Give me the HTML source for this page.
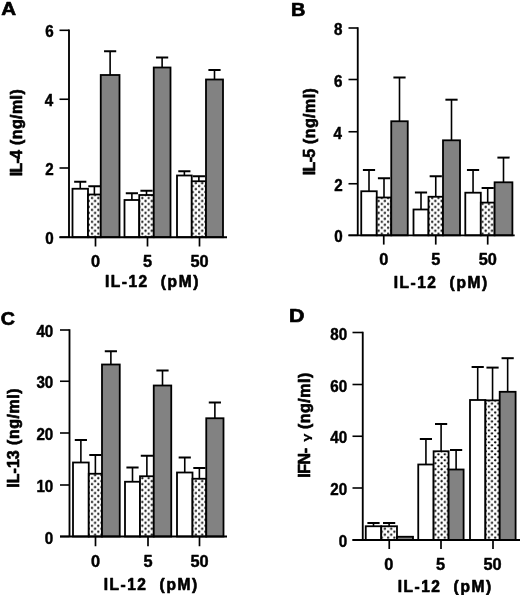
<!DOCTYPE html>
<html lang="en"><head><meta charset="utf-8"><title>Figure</title>
<style>html,body{margin:0;padding:0;background:#fff}body{width:520px;height:595px;overflow:hidden}svg{display:block}text{font-family:"Liberation Sans",Arial,Helvetica,sans-serif;font-weight:bold;fill:#000;stroke:#000;stroke-linejoin:round}</style></head><body>
<svg width="520" height="595" viewBox="0 0 520 595">
<defs><pattern id="dots" x="0" y="0" width="6.3" height="5.96" patternUnits="userSpaceOnUse"><rect width="6.3" height="5.96" fill="#fff"/><ellipse cx="3.8" cy="1.3" rx="1.2" ry="1.15" fill="#000"/><ellipse cx="0.65" cy="4.28" rx="1.2" ry="1.15" fill="#000"/><ellipse cx="6.95" cy="4.28" rx="1.2" ry="1.15" fill="#000"/></pattern></defs>
<rect width="520" height="595" fill="#fff"/>
<g id="panelA">
<path d="M80.25 188.75V181.75" stroke="#000" stroke-width="1.6" fill="none"/><path d="M74.15 181.75H86.35" stroke="#000" stroke-width="2" fill="none"/>
<rect x="72.50" y="188.75" width="15.50" height="48.45" fill="#fff" stroke="#000" stroke-width="1.8"/>
<path d="M94.38 194.50V186.25" stroke="#000" stroke-width="1.6" fill="none"/><path d="M88.28 186.25H100.47" stroke="#000" stroke-width="2" fill="none"/>
<rect x="88.00" y="194.50" width="12.75" height="42.70" fill="url(#dots)" stroke="#000" stroke-width="1.8"/>
<path d="M110.12 75.00V51.25" stroke="#000" stroke-width="1.6" fill="none"/><path d="M104.03 51.25H116.22" stroke="#000" stroke-width="2" fill="none"/>
<rect x="100.75" y="75.00" width="18.75" height="162.20" fill="#828282" stroke="#000" stroke-width="1.8"/>
<path d="M131.88 200.00V193.25" stroke="#000" stroke-width="1.6" fill="none"/><path d="M125.78 193.25H137.97" stroke="#000" stroke-width="2" fill="none"/>
<rect x="124.50" y="200.00" width="14.75" height="37.20" fill="#fff" stroke="#000" stroke-width="1.8"/>
<path d="M146.50 195.00V190.75" stroke="#000" stroke-width="1.6" fill="none"/><path d="M140.40 190.75H152.60" stroke="#000" stroke-width="2" fill="none"/>
<rect x="139.25" y="195.00" width="14.50" height="42.20" fill="url(#dots)" stroke="#000" stroke-width="1.8"/>
<path d="M162.12 67.50V57.50" stroke="#000" stroke-width="1.6" fill="none"/><path d="M156.03 57.50H168.22" stroke="#000" stroke-width="2" fill="none"/>
<rect x="153.75" y="67.50" width="16.75" height="169.70" fill="#828282" stroke="#000" stroke-width="1.8"/>
<path d="M184.38 175.50V171.25" stroke="#000" stroke-width="1.6" fill="none"/><path d="M178.28 171.25H190.47" stroke="#000" stroke-width="2" fill="none"/>
<rect x="177.00" y="175.50" width="14.75" height="61.70" fill="#fff" stroke="#000" stroke-width="1.8"/>
<path d="M198.88 181.25V176.25" stroke="#000" stroke-width="1.6" fill="none"/><path d="M192.78 176.25H204.97" stroke="#000" stroke-width="2" fill="none"/>
<rect x="191.75" y="181.25" width="14.25" height="55.95" fill="url(#dots)" stroke="#000" stroke-width="1.8"/>
<path d="M214.50 79.50V70.00" stroke="#000" stroke-width="1.6" fill="none"/><path d="M208.40 70.00H220.60" stroke="#000" stroke-width="2" fill="none"/>
<rect x="206.00" y="79.50" width="17.00" height="157.70" fill="#828282" stroke="#000" stroke-width="1.8"/>
<path d="M69.00 29.50V237.20M59.50 237.20H227.00" stroke="#000" stroke-width="1.85" fill="none"/>
<path d="M59.50 30.30H69.00" stroke="#000" stroke-width="1.6"/>
<text transform="translate(45.18,37.40) scale(0.95,1.0)" font-size="16.0" letter-spacing="0.000" stroke-width="0.45">6</text>
<path d="M59.50 99.25H69.00" stroke="#000" stroke-width="1.6"/>
<text transform="translate(44.71,106.35) scale(0.95,1.0)" font-size="16.0" letter-spacing="0.000" stroke-width="0.45">4</text>
<path d="M59.50 168.00H69.00" stroke="#000" stroke-width="1.6"/>
<text transform="translate(45.24,175.10) scale(0.95,1.0)" font-size="16.0" letter-spacing="0.000" stroke-width="0.45">2</text>
<path d="M59.50 237.20H69.00" stroke="#000" stroke-width="1.6"/>
<text transform="translate(45.26,244.30) scale(0.95,1.0)" font-size="16.0" letter-spacing="0.000" stroke-width="0.45">0</text>
<path d="M95.50 237.20V246.50" stroke="#000" stroke-width="1.7"/>
<text transform="translate(90.97,267.30) scale(1.02,1.0)" font-size="16.0" letter-spacing="0.000" stroke-width="0.45">0</text>
<path d="M147.50 237.20V246.50" stroke="#000" stroke-width="1.7"/>
<text transform="translate(142.94,267.30) scale(1.02,1.0)" font-size="16.0" letter-spacing="0.000" stroke-width="0.45">5</text>
<path d="M199.50 237.20V246.50" stroke="#000" stroke-width="1.7"/>
<text transform="translate(190.51,267.30) scale(1.02,1.0)" font-size="16.0" letter-spacing="-0.000" stroke-width="0.45">50</text>
<text transform="translate(104.88,287.20) scale(0.97,1.0)" font-size="16.0" letter-spacing="1.574" stroke-width="0.65">IL-12</text>
<text transform="translate(160.79,287.20) scale(0.97,1.0)" font-size="16.0" letter-spacing="1.691" stroke-width="0.65">(pM)</text>
<text transform="translate(21.60,176.15) rotate(-90) scale(1.0,1.0)" font-size="16.0" letter-spacing="-0.780" stroke-width="0.65">IL-4</text>
<text transform="translate(21.60,144.97) rotate(-90) scale(1.0,1.0)" font-size="16.0" letter-spacing="0.404" stroke-width="0.65">(ng/ml)</text>
<text transform="translate(1.16,15.30) scale(1.1554962696406135,1.0)" font-size="17.8" letter-spacing="0.000" stroke-width="0.65">A</text>
</g>
<g id="panelB">
<path d="M369.00 191.25V170.00" stroke="#000" stroke-width="1.6" fill="none"/><path d="M362.90 170.00H375.10" stroke="#000" stroke-width="2" fill="none"/>
<rect x="361.25" y="191.25" width="15.50" height="44.05" fill="#fff" stroke="#000" stroke-width="1.8"/>
<path d="M384.00 197.50V178.25" stroke="#000" stroke-width="1.6" fill="none"/><path d="M377.90 178.25H390.10" stroke="#000" stroke-width="2" fill="none"/>
<rect x="376.75" y="197.50" width="14.50" height="37.80" fill="url(#dots)" stroke="#000" stroke-width="1.8"/>
<path d="M399.50 121.25V77.50" stroke="#000" stroke-width="1.6" fill="none"/><path d="M393.40 77.50H405.60" stroke="#000" stroke-width="2" fill="none"/>
<rect x="391.25" y="121.25" width="16.50" height="114.05" fill="#828282" stroke="#000" stroke-width="1.8"/>
<path d="M421.00 209.50V192.50" stroke="#000" stroke-width="1.6" fill="none"/><path d="M414.90 192.50H427.10" stroke="#000" stroke-width="2" fill="none"/>
<rect x="413.50" y="209.50" width="15.00" height="25.80" fill="#fff" stroke="#000" stroke-width="1.8"/>
<path d="M435.75 196.75V176.25" stroke="#000" stroke-width="1.6" fill="none"/><path d="M429.65 176.25H441.85" stroke="#000" stroke-width="2" fill="none"/>
<rect x="428.50" y="196.75" width="14.50" height="38.55" fill="url(#dots)" stroke="#000" stroke-width="1.8"/>
<path d="M451.50 140.30V99.70" stroke="#000" stroke-width="1.6" fill="none"/><path d="M445.40 99.70H457.60" stroke="#000" stroke-width="2" fill="none"/>
<rect x="443.00" y="140.30" width="17.00" height="95.00" fill="#828282" stroke="#000" stroke-width="1.8"/>
<path d="M473.05 192.70V170.00" stroke="#000" stroke-width="1.6" fill="none"/><path d="M466.95 170.00H479.15" stroke="#000" stroke-width="2" fill="none"/>
<rect x="465.30" y="192.70" width="15.50" height="42.60" fill="#fff" stroke="#000" stroke-width="1.8"/>
<path d="M487.70 202.60V188.00" stroke="#000" stroke-width="1.6" fill="none"/><path d="M481.60 188.00H493.80" stroke="#000" stroke-width="2" fill="none"/>
<rect x="480.80" y="202.60" width="13.80" height="32.70" fill="url(#dots)" stroke="#000" stroke-width="1.8"/>
<path d="M503.50 182.30V157.60" stroke="#000" stroke-width="1.6" fill="none"/><path d="M497.40 157.60H509.60" stroke="#000" stroke-width="2" fill="none"/>
<rect x="494.60" y="182.30" width="17.80" height="53.00" fill="#828282" stroke="#000" stroke-width="1.8"/>
<path d="M357.75 27.20V235.30M348.50 235.30H514.70" stroke="#000" stroke-width="1.85" fill="none"/>
<path d="M348.50 28.00H357.75" stroke="#000" stroke-width="1.6"/>
<text transform="translate(334.00,35.10) scale(0.95,1.0)" font-size="16.0" letter-spacing="0.000" stroke-width="0.45">8</text>
<path d="M348.50 79.50H357.75" stroke="#000" stroke-width="1.6"/>
<text transform="translate(334.08,86.60) scale(0.95,1.0)" font-size="16.0" letter-spacing="0.000" stroke-width="0.45">6</text>
<path d="M348.50 131.75H357.75" stroke="#000" stroke-width="1.6"/>
<text transform="translate(333.61,138.85) scale(0.95,1.0)" font-size="16.0" letter-spacing="0.000" stroke-width="0.45">4</text>
<path d="M348.50 183.75H357.75" stroke="#000" stroke-width="1.6"/>
<text transform="translate(334.14,190.85) scale(0.95,1.0)" font-size="16.0" letter-spacing="0.000" stroke-width="0.45">2</text>
<path d="M348.50 235.30H357.75" stroke="#000" stroke-width="1.6"/>
<text transform="translate(334.16,242.40) scale(0.95,1.0)" font-size="16.0" letter-spacing="0.000" stroke-width="0.45">0</text>
<path d="M383.75 235.30V244.60" stroke="#000" stroke-width="1.7"/>
<text transform="translate(379.22,265.30) scale(1.02,1.0)" font-size="16.0" letter-spacing="0.000" stroke-width="0.45">0</text>
<path d="M435.75 235.30V244.60" stroke="#000" stroke-width="1.7"/>
<text transform="translate(431.19,265.30) scale(1.02,1.0)" font-size="16.0" letter-spacing="0.000" stroke-width="0.45">5</text>
<path d="M487.70 235.30V244.60" stroke="#000" stroke-width="1.7"/>
<text transform="translate(478.71,265.30) scale(1.02,1.0)" font-size="16.0" letter-spacing="0.000" stroke-width="0.45">50</text>
<text transform="translate(393.68,287.50) scale(0.97,1.0)" font-size="16.0" letter-spacing="1.574" stroke-width="0.65">IL-12</text>
<text transform="translate(449.59,287.50) scale(0.97,1.0)" font-size="16.0" letter-spacing="1.691" stroke-width="0.65">(pM)</text>
<text transform="translate(314.80,175.25) rotate(-90) scale(1.0,1.0)" font-size="16.0" letter-spacing="-0.660" stroke-width="0.65">IL-5</text>
<text transform="translate(314.80,144.07) rotate(-90) scale(1.0,1.0)" font-size="16.0" letter-spacing="0.437" stroke-width="0.65">(ng/ml)</text>
<text transform="translate(291.03,16.30) scale(1.116850709150632,1.0)" font-size="17.8" letter-spacing="0.000" stroke-width="0.65">B</text>
</g>
<g id="panelC">
<path d="M80.88 462.50V440.00" stroke="#000" stroke-width="1.6" fill="none"/><path d="M74.78 440.00H86.97" stroke="#000" stroke-width="2" fill="none"/>
<rect x="73.00" y="462.50" width="15.75" height="74.00" fill="#fff" stroke="#000" stroke-width="1.8"/>
<path d="M95.38 473.75V455.00" stroke="#000" stroke-width="1.6" fill="none"/><path d="M89.28 455.00H101.47" stroke="#000" stroke-width="2" fill="none"/>
<rect x="88.75" y="473.75" width="13.25" height="62.75" fill="url(#dots)" stroke="#000" stroke-width="1.8"/>
<path d="M110.88 364.50V351.25" stroke="#000" stroke-width="1.6" fill="none"/><path d="M104.78 351.25H116.97" stroke="#000" stroke-width="2" fill="none"/>
<rect x="102.00" y="364.50" width="17.75" height="172.00" fill="#828282" stroke="#000" stroke-width="1.8"/>
<path d="M132.50 481.75V467.50" stroke="#000" stroke-width="1.6" fill="none"/><path d="M126.40 467.50H138.60" stroke="#000" stroke-width="2" fill="none"/>
<rect x="125.00" y="481.75" width="15.00" height="54.75" fill="#fff" stroke="#000" stroke-width="1.8"/>
<path d="M146.88 476.25V455.75" stroke="#000" stroke-width="1.6" fill="none"/><path d="M140.78 455.75H152.97" stroke="#000" stroke-width="2" fill="none"/>
<rect x="140.00" y="476.25" width="13.75" height="60.25" fill="url(#dots)" stroke="#000" stroke-width="1.8"/>
<path d="M162.50 385.50V370.50" stroke="#000" stroke-width="1.6" fill="none"/><path d="M156.40 370.50H168.60" stroke="#000" stroke-width="2" fill="none"/>
<rect x="153.75" y="385.50" width="17.50" height="151.00" fill="#828282" stroke="#000" stroke-width="1.8"/>
<path d="M184.75 472.50V457.50" stroke="#000" stroke-width="1.6" fill="none"/><path d="M178.65 457.50H190.85" stroke="#000" stroke-width="2" fill="none"/>
<rect x="177.00" y="472.50" width="15.50" height="64.00" fill="#fff" stroke="#000" stroke-width="1.8"/>
<path d="M199.38 478.75V468.00" stroke="#000" stroke-width="1.6" fill="none"/><path d="M193.28 468.00H205.47" stroke="#000" stroke-width="2" fill="none"/>
<rect x="192.50" y="478.75" width="13.75" height="57.75" fill="url(#dots)" stroke="#000" stroke-width="1.8"/>
<path d="M214.88 418.25V402.50" stroke="#000" stroke-width="1.6" fill="none"/><path d="M208.78 402.50H220.97" stroke="#000" stroke-width="2" fill="none"/>
<rect x="206.25" y="418.25" width="17.25" height="118.25" fill="#828282" stroke="#000" stroke-width="1.8"/>
<path d="M69.50 329.20V536.50M60.00 536.50H227.00" stroke="#000" stroke-width="1.85" fill="none"/>
<path d="M60.00 330.00H69.50" stroke="#000" stroke-width="1.6"/>
<text transform="translate(36.40,337.10) scale(0.95,1.0)" font-size="16.0" letter-spacing="0.000" stroke-width="0.45">40</text>
<path d="M60.00 381.25H69.50" stroke="#000" stroke-width="1.6"/>
<text transform="translate(36.40,388.35) scale(0.95,1.0)" font-size="16.0" letter-spacing="0.000" stroke-width="0.45">30</text>
<path d="M60.00 433.00H69.50" stroke="#000" stroke-width="1.6"/>
<text transform="translate(36.40,440.10) scale(0.95,1.0)" font-size="16.0" letter-spacing="-0.000" stroke-width="0.45">20</text>
<path d="M60.00 485.00H69.50" stroke="#000" stroke-width="1.6"/>
<text transform="translate(36.40,492.10) scale(0.95,1.0)" font-size="16.0" letter-spacing="0.000" stroke-width="0.45">10</text>
<path d="M60.00 536.50H69.50" stroke="#000" stroke-width="1.6"/>
<text transform="translate(44.86,543.60) scale(0.95,1.0)" font-size="16.0" letter-spacing="0.000" stroke-width="0.45">0</text>
<path d="M95.50 536.50V546.25" stroke="#000" stroke-width="1.7"/>
<text transform="translate(90.97,566.60) scale(1.02,1.0)" font-size="16.0" letter-spacing="0.000" stroke-width="0.45">0</text>
<path d="M148.00 536.50V546.25" stroke="#000" stroke-width="1.7"/>
<text transform="translate(143.44,566.60) scale(1.02,1.0)" font-size="16.0" letter-spacing="0.000" stroke-width="0.45">5</text>
<path d="M199.50 536.50V546.25" stroke="#000" stroke-width="1.7"/>
<text transform="translate(190.51,566.60) scale(1.02,1.0)" font-size="16.0" letter-spacing="-0.000" stroke-width="0.45">50</text>
<text transform="translate(103.68,590.00) scale(0.97,1.0)" font-size="16.0" letter-spacing="1.574" stroke-width="0.65">IL-12</text>
<text transform="translate(159.59,590.00) scale(0.97,1.0)" font-size="16.0" letter-spacing="1.691" stroke-width="0.65">(pM)</text>
<text transform="translate(18.50,487.75) rotate(-90) scale(1.0,1.0)" font-size="16.0" letter-spacing="0.039" stroke-width="0.65">IL-13</text>
<text transform="translate(18.50,444.97) rotate(-90) scale(1.0,1.0)" font-size="16.0" letter-spacing="0.521" stroke-width="0.65">(ng/ml)</text>
<text transform="translate(0.85,325.00) scale(1.1027204018215484,1.0)" font-size="17.8" letter-spacing="0.000" stroke-width="0.65">C</text>
</g>
<g id="panelD">
<path d="M373.50 526.25V523.00" stroke="#000" stroke-width="1.6" fill="none"/><path d="M367.40 523.00H379.60" stroke="#000" stroke-width="2" fill="none"/>
<rect x="365.75" y="526.25" width="15.50" height="13.75" fill="#fff" stroke="#000" stroke-width="1.8"/>
<path d="M389.12 526.25V523.00" stroke="#000" stroke-width="1.6" fill="none"/><path d="M383.02 523.00H395.23" stroke="#000" stroke-width="2" fill="none"/>
<rect x="381.25" y="526.25" width="15.75" height="13.75" fill="url(#dots)" stroke="#000" stroke-width="1.8"/>
<rect x="397.00" y="536.75" width="16.00" height="3.25" fill="#828282" stroke="#000" stroke-width="1.8"/>
<path d="M425.93 464.50V439.00" stroke="#000" stroke-width="1.6" fill="none"/><path d="M419.82 439.00H432.03" stroke="#000" stroke-width="2" fill="none"/>
<rect x="418.25" y="464.50" width="15.35" height="75.50" fill="#fff" stroke="#000" stroke-width="1.8"/>
<path d="M441.10 451.25V424.00" stroke="#000" stroke-width="1.6" fill="none"/><path d="M435.00 424.00H447.20" stroke="#000" stroke-width="2" fill="none"/>
<rect x="433.60" y="451.25" width="15.00" height="88.75" fill="url(#dots)" stroke="#000" stroke-width="1.8"/>
<path d="M456.10 469.50V450.00" stroke="#000" stroke-width="1.6" fill="none"/><path d="M450.00 450.00H462.20" stroke="#000" stroke-width="2" fill="none"/>
<rect x="448.60" y="469.50" width="15.00" height="70.50" fill="#828282" stroke="#000" stroke-width="1.8"/>
<path d="M477.70 400.00V367.00" stroke="#000" stroke-width="1.6" fill="none"/><path d="M471.60 367.00H483.80" stroke="#000" stroke-width="2" fill="none"/>
<rect x="470.00" y="400.00" width="15.40" height="140.00" fill="#fff" stroke="#000" stroke-width="1.8"/>
<path d="M492.55 400.40V367.60" stroke="#000" stroke-width="1.6" fill="none"/><path d="M486.45 367.60H498.65" stroke="#000" stroke-width="2" fill="none"/>
<rect x="485.40" y="400.40" width="14.30" height="139.60" fill="url(#dots)" stroke="#000" stroke-width="1.8"/>
<path d="M507.65 391.80V358.20" stroke="#000" stroke-width="1.6" fill="none"/><path d="M501.55 358.20H513.75" stroke="#000" stroke-width="2" fill="none"/>
<rect x="499.70" y="391.80" width="15.90" height="148.20" fill="#828282" stroke="#000" stroke-width="1.8"/>
<path d="M362.75 331.70V540.00M352.50 540.00H520.00" stroke="#000" stroke-width="1.85" fill="none"/>
<path d="M352.50 332.50H362.75" stroke="#000" stroke-width="1.6"/>
<text transform="translate(330.30,339.60) scale(0.95,1.0)" font-size="16.0" letter-spacing="-0.000" stroke-width="0.45">80</text>
<path d="M352.50 384.50H362.75" stroke="#000" stroke-width="1.6"/>
<text transform="translate(330.30,391.60) scale(0.95,1.0)" font-size="16.0" letter-spacing="-0.000" stroke-width="0.45">60</text>
<path d="M352.50 436.25H362.75" stroke="#000" stroke-width="1.6"/>
<text transform="translate(330.30,443.35) scale(0.95,1.0)" font-size="16.0" letter-spacing="0.000" stroke-width="0.45">40</text>
<path d="M352.50 488.00H362.75" stroke="#000" stroke-width="1.6"/>
<text transform="translate(330.30,495.10) scale(0.95,1.0)" font-size="16.0" letter-spacing="-0.000" stroke-width="0.45">20</text>
<path d="M352.50 540.00H362.75" stroke="#000" stroke-width="1.6"/>
<text transform="translate(338.76,547.10) scale(0.95,1.0)" font-size="16.0" letter-spacing="0.000" stroke-width="0.45">0</text>
<path d="M389.25 540.00V549.00" stroke="#000" stroke-width="1.7"/>
<text transform="translate(384.22,569.80) scale(1.02,1.0)" font-size="16.0" letter-spacing="0.000" stroke-width="0.45">0</text>
<path d="M441.00 540.00V549.00" stroke="#000" stroke-width="1.7"/>
<text transform="translate(435.94,569.80) scale(1.02,1.0)" font-size="16.0" letter-spacing="0.000" stroke-width="0.45">5</text>
<path d="M493.00 540.00V549.00" stroke="#000" stroke-width="1.7"/>
<text transform="translate(483.51,569.80) scale(1.02,1.0)" font-size="16.0" letter-spacing="0.000" stroke-width="0.45">50</text>
<text transform="translate(397.68,591.50) scale(0.97,1.0)" font-size="16.0" letter-spacing="1.574" stroke-width="0.65">IL-12</text>
<text transform="translate(453.59,591.50) scale(0.97,1.0)" font-size="16.0" letter-spacing="1.691" stroke-width="0.65">(pM)</text>
<text transform="translate(309.50,477.75) rotate(-90) scale(1.0,1.0)" font-size="16.0" letter-spacing="-0.447" stroke-width="0.65">IFN-</text>
<text transform="translate(309.50,428.97) rotate(-90) scale(1.0,1.0)" font-size="16.0" letter-spacing="0.487" stroke-width="0.65">(ng/ml)</text>
<text transform="translate(309.50,441.80) rotate(-90) scale(1.3,1)" font-size="11.5" font-weight="normal" stroke-width="0.2">γ</text>
<text transform="translate(288.96,321.80) scale(1.1974332995609591,1.0)" font-size="17.8" letter-spacing="0.000" stroke-width="0.65">D</text>
</g>
</svg></body></html>
